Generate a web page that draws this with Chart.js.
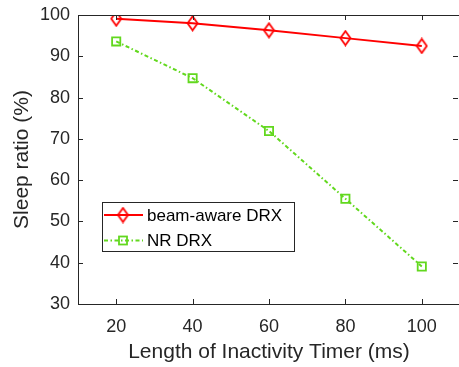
<!DOCTYPE html>
<html>
<head>
<meta charset="utf-8">
<script src="https://cdn.jsdelivr.net/npm/chart.js@4.4.1/dist/chart.umd.min.js"></script>
<style>
html, body { margin: 0; padding: 0; background: #fff; overflow: hidden; }
canvas { display: block; }
</style>
</head>
<body>
<canvas id="myChart" width="461" height="367"></canvas>
<script>
const timerLengths = [20, 40, 60, 80, 100];
const beamAwareSleep = [99.1, 98.0, 96.3, 94.4, 92.5];
const nrSleep = [93.6, 84.7, 71.9, 55.5, 39.1];
const xTicks = [20, 40, 60, 80, 100];
const yTicks = [30, 40, 50, 60, 70, 80, 90, 100];
const seriesNames = ['beam-aware DRX', 'NR DRX'];

const axisColor = '#262626';
const red = '#ff0000';
const green = '#62d81e';
const fontFamily = '"Liberation Sans", Arial, Helvetica, sans-serif';

// open diamond, a bit taller than wide
function diamondMarker(color) {
    const c = document.createElement('canvas');
    c.width = 13;
    c.height = 17;
    const g = c.getContext('2d');
    g.strokeStyle = color;
    g.lineWidth = 1.8;
    g.beginPath();
    g.moveTo(6.5, 1.5);
    g.lineTo(11.5, 8.5);
    g.lineTo(6.5, 15.5);
    g.lineTo(1.5, 8.5);
    g.closePath();
    g.stroke();
    return c;
}

const diamond = diamondMarker(red);

// box around the plot, inward ticks on all four sides, legend inside
const frameAndLegend = {
    id: 'frameAndLegend',
    afterDraw(chart) {
        const ctx = chart.ctx;
        const a = chart.chartArea;
        const x = chart.scales.x;
        const y = chart.scales.y;
        ctx.save();
        ctx.strokeStyle = axisColor;
        ctx.lineWidth = 1;
        ctx.strokeRect(Math.round(a.left) + 0.5, Math.round(a.top) + 0.5, Math.round(a.right - a.left), Math.round(a.bottom - a.top));
        ctx.beginPath();
        xTicks.forEach(v => {
            const px = Math.round(x.getPixelForValue(v)) + 0.5;
            ctx.moveTo(px, a.bottom);
            ctx.lineTo(px, a.bottom - 5);
            ctx.moveTo(px, a.top);
            ctx.lineTo(px, a.top + 5);
        });
        yTicks.forEach(v => {
            const py = Math.round(y.getPixelForValue(v)) + 0.5;
            ctx.moveTo(a.left, py);
            ctx.lineTo(a.left + 5, py);
            ctx.moveTo(a.right - 2, py);
            ctx.lineTo(a.right - 7, py);
        });
        ctx.stroke();

        // legend
        const bx = 102.5, by = 202.5, bw = 192, bh = 49;
        ctx.fillStyle = '#fff';
        ctx.fillRect(bx, by, bw, bh);
        ctx.strokeStyle = axisColor;
        ctx.strokeRect(bx, by, bw, bh);
        chart.data.datasets.forEach((ds, i) => {
            const ry = i === 0 ? 215 : 240.5;
            ctx.strokeStyle = ds.borderColor;
            ctx.lineWidth = ds.borderWidth;
            ctx.setLineDash(ds.borderDash || []);
            ctx.beginPath();
            ctx.moveTo(104, ry);
            ctx.lineTo(143, ry);
            ctx.stroke();
            ctx.setLineDash([]);
            if (i === 0) {
                ctx.drawImage(diamond, 123 - 6.5, ry - 8.5);
            } else {
                ctx.lineWidth = 1.8;
                ctx.strokeRect(123 - 4, ry - 4, 8, 8);
            }
            ctx.fillStyle = '#000';
            ctx.font = '17px ' + fontFamily;
            ctx.textBaseline = 'middle';
            ctx.textAlign = 'left';
            ctx.fillText(ds.label, 147, ry + 1);
        });
        ctx.restore();
    }
};

new Chart(document.getElementById('myChart'), {
    type: 'line',
    data: {
        datasets: [
            {
                label: seriesNames[0],
                data: timerLengths.map((t, i) => ({ x: t, y: beamAwareSleep[i] })),
                borderColor: red,
                borderWidth: 2,
                pointStyle: diamond,
                pointRadius: 7,
                pointBorderColor: red,
                pointBackgroundColor: 'rgba(0,0,0,0)',
                tension: 0
            },
            {
                label: seriesNames[1],
                data: timerLengths.map((t, i) => ({ x: t, y: nrSleep[i] })),
                borderColor: green,
                borderWidth: 2,
                borderDash: [4, 2.5, 1.5, 2.5],
                pointStyle: 'rect',
                pointRadius: 5.8,
                pointBorderWidth: 1.8,
                pointBorderColor: green,
                pointBackgroundColor: 'rgba(0,0,0,0)',
                tension: 0
            }
        ]
    },
    options: {
        responsive: false,
        devicePixelRatio: 1,
        animation: false,
        layout: { autoPadding: false, padding: { top: 15, right: 1, left: 0, bottom: 0 } },
        plugins: {
            legend: { display: false },
            tooltip: { enabled: false }
        },
        scales: {
            x: {
                type: 'linear',
                min: 10,
                max: 110,
                afterBuildTicks: s => { s.ticks = xTicks.map(v => ({ value: v })); },
                afterFit: s => {
                    s.height = 63;
                    s.paddingLeft = 0;
                    s.paddingRight = 0;
                },
                grid: { display: true, drawOnChartArea: false, drawTicks: false },
                border: { display: false },
                ticks: {
                    color: axisColor,
                    maxRotation: 0,
                    padding: 12,
                    font: { size: 18, family: fontFamily }
                },
                title: {
                    display: true,
                    text: 'Length of Inactivity Timer (ms)',
                    color: axisColor,
                    font: { size: 21, family: fontFamily },
                    padding: { top: 0, bottom: 2 }
                }
            },
            y: {
                type: 'linear',
                min: 30,
                max: 100,
                afterBuildTicks: s => { s.ticks = yTicks.map(v => ({ value: v })); },
                afterFit: s => {
                    s.width = 78;
                    s.paddingTop = 0;
                    s.paddingBottom = 0;
                },
                grid: { display: true, drawOnChartArea: false, drawTicks: false },
                border: { display: false },
                ticks: {
                    color: axisColor,
                    padding: 8,
                    font: { size: 18, family: fontFamily }
                },
                title: {
                    display: true,
                    text: 'Sleep ratio (%)',
                    color: axisColor,
                    font: { size: 21, family: fontFamily },
                    padding: { top: 10, bottom: 0 }
                }
            }
        }
    },
    plugins: [frameAndLegend]
});
</script>
</body>
</html>
